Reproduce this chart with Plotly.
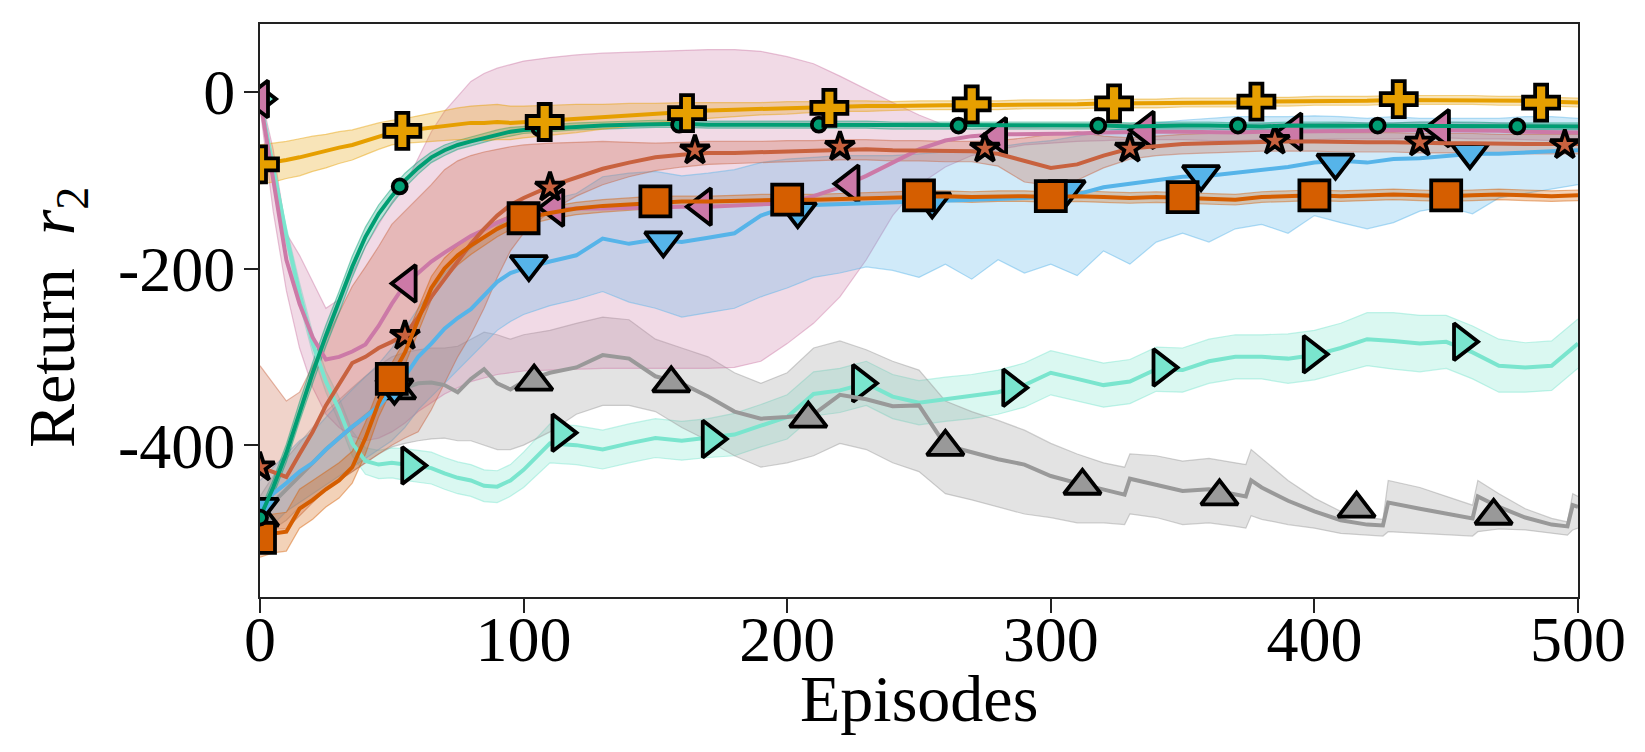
import plotly.graph_objects as go

# ---------------- data ----------------
EP = list(range(0, 101, 5)) + list(range(110, 501, 10))

orange_mean = [-82, -80, -77, -74, -70, -67, -63, -60, -55, -50, -46, -44, -42, -40, -38, -36, -35, -35, -34, -35, -34,
               -32, -30, -28, -26, -24, -22, -21, -20, -19, -18, -17, -16, -16, -16, -15, -15, -15, -15, -14, -14,
               -14, -13, -13, -13, -12, -12, -12, -11, -11, -10, -10, -10, -9, -9, -9, -9, -10, -10, -11, -12]
orange_spread = [22, 22, 21, 21, 20, 19, 18, 17, 16, 15, 14, 14, 15, 16, 17, 18, 19, 20, 20, 19, 18,
                 17, 16, 14, 13, 11, 10, 9, 8, 7, 7, 6, 6, 6, 5, 5, 5, 5, 5, 5, 5,
                 5, 5, 5, 5, 5, 5, 5, 5, 5, 5, 5, 5, 5, 5, 5, 5, 5, 5, 5, 5]

green_mean = [-482, -448, -409, -362, -318, -276, -238, -198, -164, -138, -118, -100, -86, -74, -66, -60, -56, -52, -48, -45, -43,
              -41, -39, -38, -37, -36, -36, -37, -37, -37, -37, -37, -37, -37, -38, -38, -38, -38, -38, -38, -38,
              -38, -38, -39, -38, -38, -38, -39, -39, -38, -38, -38, -39, -39, -38, -38, -38, -39, -39, -39, -39]
green_spread = [8, 9, 10, 11, 12, 12, 12, 12, 11, 10, 9, 8, 7, 6, 6, 5, 5, 5, 5, 5, 4,
                4, 4, 4, 4, 4, 4, 4, 4, 4, 4, 4, 4, 4, 4, 4, 4, 4, 4, 4, 4,
                4, 4, 4, 4, 4, 4, 4, 4, 4, 4, 4, 4, 4, 4, 4, 4, 4, 4, 4, 4]

verm_mean = [-505, -500, -498, -472, -462, -450, -440, -425, -392, -352, -322, -295, -258, -222, -200, -185, -174, -164, -155, -148, -143,
             -137, -132, -129, -127, -125, -124, -124, -123, -122, -122, -122, -121, -120, -119, -118, -118, -119, -118, -118, -119,
             -118, -119, -120, -119, -120, -121, -122, -119, -118, -117, -118, -117, -116, -117, -118, -117, -116, -117, -118, -117]
verm_spread = [22, 22, 22, 22, 22, 20, 20, 18, 18, 16, 15, 14, 14, 13, 12, 11, 10, 10, 9, 8, 8,
               7, 7, 7, 7, 7, 6, 6, 6, 6, 6, 6, 6, 6, 6, 6, 6, 6, 6, 6, 6,
               6, 6, 6, 6, 6, 6, 6, 6, 6, 6, 6, 6, 6, 6, 6, 6, 6, 6, 6, 6]

blue_mean = [-470, -455, -443, -430, -420, -405, -392, -379, -368, -356, -338, -322, -300, -285, -268, -256, -246, -230, -215, -205, -200,
             -192, -185, -166, -172, -167, -170, -165, -160, -140, -130, -128, -127, -126, -125, -124, -123, -122, -121, -121, -119,
             -116, -108, -104, -100, -96, -95, -92, -88, -85, -80, -78, -80, -76, -75, -72, -70, -70, -68, -67, -66]
blue_lo = [-500, -490, -475, -465, -455, -445, -435, -425, -415, -405, -395, -380, -360, -345, -330, -315, -300, -285, -270, -260, -252,
           -242, -235, -226, -238, -245, -255, -250, -245, -232, -222, -210, -205, -198, -202, -210, -195, -212, -190, -205, -195,
           -208, -180, -195, -170, -160, -170, -155, -150, -160, -140, -148, -155, -148, -135, -130, -138, -120, -115, -110, -105]
blue_hi = [-440, -425, -410, -395, -385, -368, -352, -337, -322, -308, -290, -268, -245, -225, -205, -190, -178, -165, -152, -142, -135,
           -122, -115, -96, -92, -90, -95, -92, -88, -80, -76, -74, -72, -72, -72, -70, -68, -65, -62, -58, -55,
           -50, -45, -40, -35, -32, -30, -28, -28, -28, -27, -28, -30, -28, -30, -30, -30, -30, -28, -28, -30]

pink_mean = [-8, -100, -190, -240, -278, -303, -300, -294, -286, -265, -240, -218, -205, -192, -182, -172, -163, -156, -148, -142, -138,
             -134, -132, -132, -131, -131, -130, -130, -129, -127, -126, -118, -108, -95, -80, -65, -55, -50, -48, -48, -47,
             -47, -46, -45, -45, -45, -46, -46, -45, -45, -45, -44, -44, -43, -43, -43, -44, -44, -45, -46, -46]
pink_lo = [-18, -135, -225, -290, -335, -365, -380, -390, -395, -392, -385, -375, -362, -352, -342, -335, -328, -324, -320, -318, -316,
           -315, -314, -313, -313, -313, -313, -313, -312, -305, -285, -262, -232, -190, -140, -105, -85, -72, -65, -60, -58,
           -56, -55, -54, -54, -54, -55, -55, -54, -54, -54, -53, -53, -53, -52, -52, -53, -53, -54, -55, -55]
pink_hi = [0, -65, -160, -185, -215, -245, -235, -205, -175, -150, -125, -105, -75, -45, -22, -5, 12, 21, 27, 31, 35,
           39, 42, 44, 45, 46, 47, 48, 48, 46, 40, 32, 18, 3, -12, -26, -38, -42, -40, -40, -39,
           -38, -37, -36, -36, -36, -37, -37, -36, -36, -36, -35, -35, -35, -34, -34, -35, -35, -36, -37, -37]

brown_mean = [-425, -430, -436, -410, -385, -355, -330, -307, -300, -290, -283, -275, -255, -232, -212, -192, -172, -155, -140, -128, -120,
              -107, -97, -87, -80, -74, -71, -69, -69, -68, -67, -66, -65, -65, -66, -66, -67, -67, -70, -78, -86,
              -82, -72, -64, -61, -59, -58, -57, -56, -56, -56, -57, -57, -57, -58, -58, -58, -59, -59, -59, -59]
brown_lo = [-490, -495, -495, -480, -465, -450, -440, -430, -420, -410, -400, -392, -385, -360, -330, -300, -275, -245, -210, -180, -160,
            -135, -118, -105, -96, -89, -85, -82, -81, -80, -79, -78, -77, -77, -78, -78, -79, -79, -84, -102, -106,
            -100, -86, -76, -72, -70, -69, -68, -67, -67, -67, -68, -68, -68, -69, -69, -69, -70, -70, -70, -70]
brown_hi = [-310, -330, -350, -340, -310, -280, -250, -220, -198, -175, -150, -135, -120, -105, -88, -78, -72, -68, -65, -62, -60,
            -58, -57, -56, -57, -58, -57, -56, -56, -56, -55, -55, -54, -54, -55, -55, -56, -56, -55, -52, -48,
            -45, -50, -52, -50, -48, -47, -46, -45, -45, -45, -46, -46, -46, -47, -47, -47, -48, -48, -48, -48]

aqua_mean = [-8, -87, -163, -228, -285, -328, -360, -398, -418, -422, -420, -422, -424, -426, -432, -437, -440, -446, -447, -440, -428,
             -398, -400, -405, -398, -392, -395, -392, -388, -378, -368, -342, -338, -330, -345, -352, -348, -345, -340, -332, -318,
             -325, -332, -328, -314, -315, -305, -300, -300, -302, -298, -290, -280, -282, -285, -283, -295, -310, -312, -310, -285]
aqua_spread = [4, 8, 10, 12, 12, 12, 14, 14, 15, 16, 17, 18, 18, 18, 18, 18, 18, 18, 18, 18, 20,
               22, 22, 22, 22, 22, 22, 22, 24, 24, 25, 25, 25, 25, 25, 25, 25, 25, 25, 25, 25,
               25, 25, 25, 25, 25, 25, 25, 25, 28, 28, 28, 30, 32, 32, 30, 30, 30, 28, 28, 28]

gray_ep = [0, 5, 10, 15, 20, 25, 30, 35, 40, 45, 50, 55, 60, 65, 70, 75, 80, 85, 90, 95, 100,
           110, 120, 130, 140, 150, 160, 170, 180, 190, 200, 210, 220, 230, 240, 250, 260, 270, 280, 290, 300, 310, 320,
           328, 330, 340, 350, 360, 370, 374, 376, 380, 390, 400, 410, 420, 426, 428, 440, 450, 460, 462, 470, 480, 490, 496, 498, 500]
gray_mean = [-482, -465, -450, -435, -420, -405, -392, -380, -368, -355, -342, -335, -330, -329, -332, -340, -325, -314, -330, -337, -328,
             -318, -312, -298, -302, -322, -330, -345, -362, -370, -368, -365, -343, -348, -356, -355, -400, -408, -416, -422, -435, -443, -450,
             -456, -438, -445, -452, -450, -456, -458, -440, -448, -463, -475, -485, -490, -491, -465, -472, -478, -483, -458, -470, -482, -490, -492, -468, -470]
gray_lo = [-505, -495, -485, -470, -460, -450, -440, -430, -420, -410, -402, -398, -395, -393, -392, -395, -395, -400, -405, -405, -400,
           -385, -365, -355, -355, -362, -380, -395, -412, -425, -420, -412, -398, -405, -420, -430, -455, -462, -470, -478, -482, -488, -488,
           -490, -478, -482, -490, -488, -492, -494, -480, -484, -490, -494, -500, -502, -503, -498, -500, -502, -503, -498, -495, -496, -500, -502, -496, -494]
gray_hi = [-458, -435, -415, -398, -380, -362, -348, -335, -322, -310, -300, -295, -292, -290, -290, -288, -280, -272, -275, -280, -275,
           -270, -262, -255, -258, -280, -290, -300, -318, -330, -318, -290, -282, -292, -305, -315, -350, -362, -372, -383, -398, -410, -420,
           -425, -410, -412, -418, -415, -420, -422, -405, -415, -440, -460, -475, -482, -484, -440, -448, -458, -468, -440, -455, -472, -483, -487, -455, -458]

# marker positions (every n-th episode)
orange_mx = [0, 54, 108, 162, 216, 270, 324, 378, 432, 486]
orange_my = [-82, -44, -34, -24, -18, -14, -13, -11, -8, -12]
green_mx = [0, 53, 106, 159, 212, 265, 318, 371, 424, 477]
green_my = [-482, -107, -41, -37, -37, -38, -38, -38, -38, -39]
verm_mx = [0, 50, 100, 150, 200, 250, 300, 350, 400, 450]
verm_my = [-505, -325, -143, -124, -122, -117, -118, -119, -117, -117]
blue_mx = [0, 51, 102, 153, 204, 255, 306, 357, 408, 459]
blue_my = [-470, -335, -195, -168, -135, -124, -110, -93, -80, -68]
pink_mx = [0, 56, 112, 168, 224, 280, 336, 392, 448]
pink_my = [-8, -217, -131, -130, -104, -50, -43, -45, -41]
brown_mx = [0, 55, 110, 165, 220, 275, 330, 385, 440, 495]
brown_my = [-425, -276, -108, -66, -62, -64, -64, -55, -57, -60]
gray_mx = [0, 52, 104, 156, 208, 260, 312, 364, 416, 468]
gray_my = [-482, -338, -328, -330, -370, -402, -446, -458, -472, -480]
aqua_mx = [0, 57, 114, 171, 228, 285, 342, 399, 456]
aqua_my = [-8, -423, -386, -393, -330, -335, -312, -297, -283]

X_TICKS = [0, 100, 200, 300, 400, 500]
Y_TICKS = [0, -200, -400]
Y_TICKTEXT = ['0', '-200', '-400']
X_TITLE = 'Episodes'
Y_TITLE = 'Return&nbsp;&nbsp;<i>r</i><sub>2</sub>'

# ---------------- styling ----------------
C_ORANGE = '#E69F00'
C_GREEN = '#009E73'
C_VERM = '#D55E00'
C_BLUE = '#56B4E9'
C_PINK = '#CC79A7'
C_BROWN = '#C8623F'
C_GRAY = '#999999'
C_AQUA = '#7AE5CE'


def rgba(h, a):
    h = h.lstrip('#')
    r, g, b = int(h[0:2], 16), int(h[2:4], 16), int(h[4:6], 16)
    return f'rgba({r},{g},{b},{a})'


def band(mean, spread):
    return [m - s for m, s in zip(mean, spread)], [m + s for m, s in zip(mean, spread)]


aqua_lo, aqua_hi = band(aqua_mean, aqua_spread)
verm_lo, verm_hi = band(verm_mean, verm_spread)
green_lo, green_hi = band(green_mean, green_spread)
orange_lo, orange_hi = band(orange_mean, orange_spread)

series = [
    # x, mean, lo, hi, color, marker x, marker y, symbol, size
    (EP, aqua_mean, aqua_lo, aqua_hi, C_AQUA, aqua_mx, aqua_my, 'triangle-right', 32),
    (gray_ep, gray_mean, gray_lo, gray_hi, C_GRAY, gray_mx, gray_my, 'triangle-up', 32),
    (EP, pink_mean, pink_lo, pink_hi, C_PINK, pink_mx, pink_my, 'triangle-left', 32),
    (EP, blue_mean, blue_lo, blue_hi, C_BLUE, blue_mx, blue_my, 'triangle-down', 32),
    (EP, brown_mean, brown_lo, brown_hi, C_BROWN, brown_mx, brown_my, 'star', 22),
    (EP, verm_mean, verm_lo, verm_hi, C_VERM, verm_mx, verm_my, 'square', 30),
    (EP, green_mean, green_lo, green_hi, C_GREEN, green_mx, green_my, 'circle', 14),
    (EP, orange_mean, orange_lo, orange_hi, C_ORANGE, orange_mx, orange_my, 'cross', 30),
]

fig = go.Figure()

# bands first (below every line, as in the original)
for x, mean, lo, hi, col, mx, my, sym, sz in series:
    fig.add_trace(go.Scatter(x=x, y=lo, mode='lines', line=dict(color=rgba(col, 0.45), width=1.2),
                             showlegend=False, hoverinfo='skip'))
    fig.add_trace(go.Scatter(x=x, y=hi, mode='lines', fill='tonexty', fillcolor=rgba(col, 0.28),
                             line=dict(color=rgba(col, 0.45), width=1.2), showlegend=False, hoverinfo='skip'))

# lines with their markers
for x, mean, lo, hi, col, mx, my, sym, sz in series:
    fig.add_trace(go.Scatter(x=x, y=mean, mode='lines', line=dict(color=col, width=4), showlegend=False))
    fig.add_trace(go.Scatter(x=mx, y=my, mode='markers',
                             marker=dict(symbol=sym, size=sz, color=col,
                                         line=dict(color='black', width=3.8)),
                             showlegend=False))

FONT = 'Liberation Serif'
fig.update_layout(
    width=1645, height=752,
    margin=dict(l=252, r=75, t=16, b=163),
    plot_bgcolor='white', paper_bgcolor='white',
    font=dict(family=FONT, size=64, color='black'),
    showlegend=False,
)
fig.update_xaxes(
    range=[0, 500], tickvals=X_TICKS, automargin=False,
    ticks='outside', ticklen=14, tickwidth=2, tickcolor='#222',
    showline=True, linewidth=2, linecolor='#222', mirror=True,
    showgrid=False, zeroline=False, ticklabelstandoff=-29,
    tickfont=dict(family=FONT, size=64),
)
fig.update_yaxes(
    range=[-572, 77], tickvals=Y_TICKS, ticktext=Y_TICKTEXT, automargin=False,
    ticks='outside', ticklen=14, tickwidth=2, tickcolor='#222',
    showline=True, linewidth=2, linecolor='#222', mirror=True,
    showgrid=False, zeroline=False, ticklabelstandoff=-4,
    tickfont=dict(family=FONT, size=64),
)

# axis titles placed where the reference has them
fig.add_annotation(text=X_TITLE, xref='paper', yref='paper', x=0.5, y=-0.178,
                   xanchor='center', yanchor='middle', showarrow=False,
                   font=dict(family=FONT, size=66, color='black'))
fig.add_annotation(text=Y_TITLE, xref='paper', yref='paper', x=-0.154, y=0.487,
                   xanchor='center', yanchor='middle', textangle=-90, showarrow=False,
                   font=dict(family=FONT, size=66, color='black'))

fig.write_html('out.html')
